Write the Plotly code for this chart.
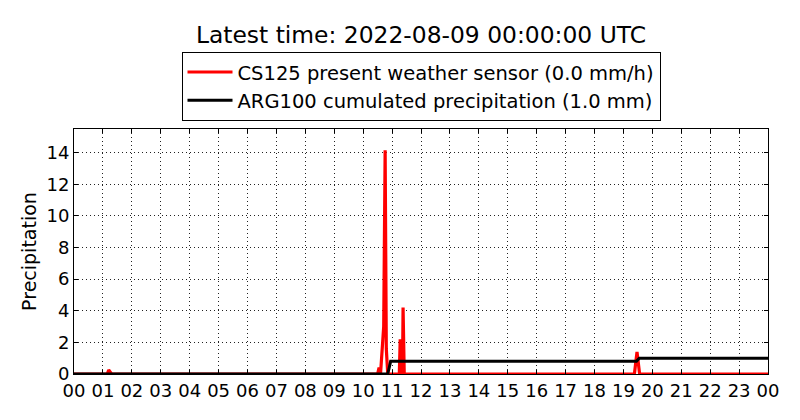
# Libraries
# =====================================================================
import plotly.graph_objects as go

# Data
# =====================================================================
# Hours of the day (UTC) and CS125 rain rate (mm/h)
cs125_hours = [0, 1.15, 1.2, 1.3, 10.5, 10.55, 10.6, 10.66, 10.71, 10.76, 10.8, 10.85,
               11.25, 11.28, 11.33, 11.36, 11.38, 11.42, 19.38, 19.47, 19.5, 19.56, 24]
cs125_rate = [0, 0, 0.25, 0, 0, 0.4, 0, 1.5, 3.0, 14.15, 1.6, 0,
              0, 2.1, 2.1, 0, 4.2, 0, 0, 1.4, 1.0, 0, 0]

# ARG100 cumulated precipitation (mm)
arg100_hours = [0, 10.85, 10.95, 19.45, 19.55, 24]
arg100_cum = [0, 0, 0.8, 0.8, 1.0, 1.0]

hour_ticks = list(range(25))
hour_labels = [f"{h % 24:02d}" for h in hour_ticks]

title_text = "Latest time: 2022-08-09 00:00:00 UTC"
cs125_name = "CS125 present weather sensor (0.0 mm/h)"
arg100_name = "ARG100 cumulated precipitation (1.0 mm)"

# Data Visualization
# =====================================================================
fig = go.Figure()

fig.add_trace(go.Scatter(
    x=cs125_hours,
    y=cs125_rate,
    mode='lines',
    name=cs125_name,
    line=dict(color='red', width=3.2)
))

fig.add_trace(go.Scatter(
    x=arg100_hours,
    y=arg100_cum,
    mode='lines',
    name=arg100_name,
    line=dict(color='black', width=3)
))

axis_style = dict(
    showline=True,
    linewidth=1,
    linecolor="black",
    mirror="ticks",
    ticks="inside",
    ticklen=4,
    tickcolor="black",
    showgrid=True,
    gridcolor="#222222",
    gridwidth=0.8,
    griddash="1px,3px",
    zeroline=False,
    tickfont=dict(size=18, color="black")
)

# Configuration plot (the page body adds an 8px offset, margins compensate)
fig.update_layout(
    title=dict(
        text=title_text,
        xref="paper",
        x=0.5,
        xanchor="center",
        y=0.936,
        yanchor="middle",
        font=dict(size=23.4, color="black")
    ),
    xaxis=dict(
        range=[0, 24],
        tickvals=hour_ticks,
        ticktext=hour_labels,
        **axis_style
    ),
    yaxis=dict(
        title=dict(text="Precipitation", font=dict(size=19, color="black"), standoff=4),
        range=[0, 15.5],
        tickvals=[0, 2, 4, 6, 8, 10, 12, 14],
        **axis_style
    ),
    legend=dict(
        x=0.5,
        y=1.315,
        xanchor="center",
        yanchor="top",
        bgcolor="white",
        bordercolor="black",
        borderwidth=1,
        itemwidth=45,
        font=dict(size=19.5, color="black"),
        tracegroupgap=0
    ),
    font=dict(family="DejaVu Sans"),
    width=800,
    height=420,
    margin=dict(l=66, r=40, t=121, b=54),
    plot_bgcolor="white",
    paper_bgcolor="white"
)

# Save as HTML file!
fig.write_html("out.html")
